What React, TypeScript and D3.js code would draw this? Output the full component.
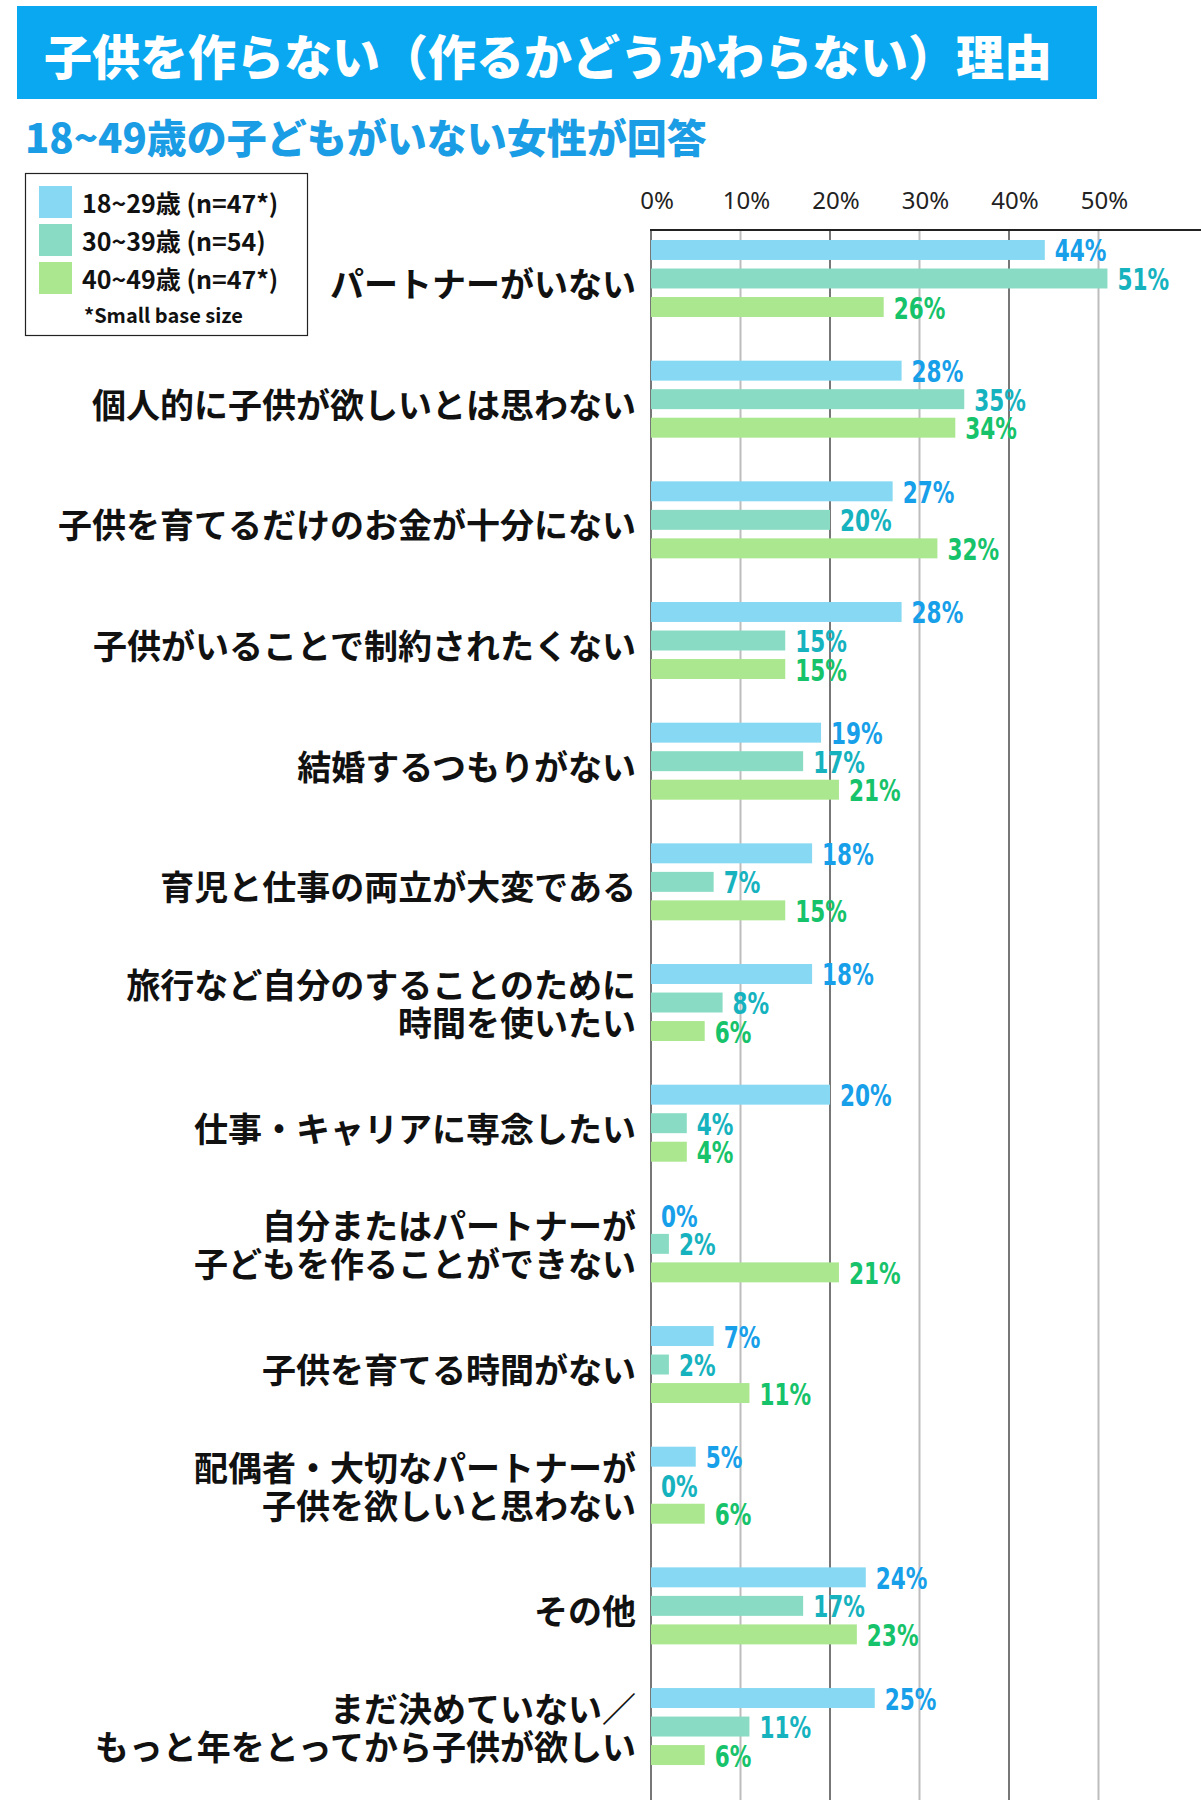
import React from "react";
import * as d3 from "d3";

const categories: string[][] = [
  ["パートナーがいない"],
  ["個人的に子供が欲しいとは思わない"],
  ["子供を育てるだけのお金が十分にない"],
  ["子供がいることで制約されたくない"],
  ["結婚するつもりがない"],
  ["育児と仕事の両立が大変である"],
  ["旅行など自分のすることのために", "時間を使いたい"],
  ["仕事・キャリアに専念したい"],
  ["自分またはパートナーが", "子どもを作ることができない"],
  ["子供を育てる時間がない"],
  ["配偶者・大切なパートナーが", "子供を欲しいと思わない"],
  ["その他"],
  ["まだ決めていない／", "もっと年をとってから子供が欲しい"],
];

const age18to29: number[] = [44, 28, 27, 28, 19, 18, 18, 20, 0, 7, 5, 24, 25];
const age30to39: number[] = [51, 35, 20, 15, 17, 7, 8, 4, 2, 2, 0, 17, 11];
const age40to49: number[] = [26, 34, 32, 15, 21, 15, 6, 4, 21, 11, 6, 23, 6];

const seriesNames: string[] = ["18~29歳 (n=47*)", "30~39歳 (n=54)", "40~49歳 (n=47*)"];
const seriesValues: number[][] = [age18to29, age30to39, age40to49];
const barColors = ["#87d9f3", "#89dcc3", "#aae78f"];
const labelColors = ["#179fe9", "#16b3bf", "#17c36a"];

const ticks: number[] = [0, 10, 20, 30, 40, 50];

const title = "子供を作らない（作るかどうかわらない）理由";
const subtitle = "18~49歳の子どもがいない女性が回答";
const footnote = "*Small base size";

const W = 1201;
const H = 1800;
const JP = "'Noto Sans CJK JP', 'Noto Sans', sans-serif";
const NUM = "'Liberation Sans Narrow', 'DejaVu Sans Condensed', 'Roboto', sans-serif";

export default function App() {
  const x = d3.scaleLinear().domain([0, 50]).range([651, 1098.5]);
  const keys = categories.map((_, i) => String(i));
  const y = d3
    .scaleBand<string>()
    .domain(keys)
    .range([240, 240 + 120.67 * categories.length])
    .paddingInner(0)
    .paddingOuter(0);
  const yi = d3
    .scaleBand<string>()
    .domain(["0", "1", "2"])
    .range([0, 77])
    .paddingInner(0.3)
    .paddingOuter(0);

  return (
    <svg
      width={W}
      height={H}
      style={{ position: "absolute", left: 0, top: 0, background: "#fff" }}
    >
      <rect x={0} y={0} width={W} height={H} fill="#fff" />
      {/* Title */}
      <rect x={17} y={6} width={1080} height={93} fill="#0aa8f0" />
      <text
        x={44}
        y={54}
        fill="#fff"
        fontFamily={JP}
        fontWeight={900}
        fontSize={48}
        dominantBaseline="central"
      >
        {title}
      </text>
      <text
        x={25}
        y={136}
        fill="#1a9de4"
        fontFamily={JP}
        fontWeight={900}
        fontSize={40}
        dominantBaseline="central"
      >
        {subtitle}
      </text>

      {/* Legend */}
      <rect x={25.5} y={173.5} width={282} height={162} fill="#fff" stroke="#222" strokeWidth={1.2} />
      {seriesNames.map((s, i) => (
        <g key={s}>
          <rect x={39} y={186 + i * 38} width={33} height={32} fill={barColors[i]} />
          <text
            x={82}
            y={202 + i * 38}
            fontFamily={JP}
            fontWeight={700}
            fontSize={25}
            fill="#111"
            dominantBaseline="central"
          >
            {s}
          </text>
        </g>
      ))}
      <text x={84} y={314} fontFamily={JP} fontWeight={700} fontSize={20} fill="#111" dominantBaseline="central">
        {footnote}
      </text>

      {/* Grid */}
      {ticks.map((t, i) => (
        <g key={t}>
          <line
            x1={x(t)}
            x2={x(t)}
            y1={230}
            y2={H}
            stroke={i % 2 === 0 ? "#777" : "#bdbdbd"}
            strokeWidth={2}
          />
          <text
            x={x(t) + 6}
            y={199}
            textAnchor="middle"
            fontFamily="'Noto Sans', sans-serif"
            fontWeight={400}
            fontSize={24}
            fill="#222"
            dominantBaseline="central"
          >
            {t}%
          </text>
        </g>
      ))}
      <line x1={x(0) - 1} x2={W} y1={230} y2={230} stroke="#222" strokeWidth={2} />

      {/* Bars */}
      {categories.map((lines, ci) => {
        const y0 = y(String(ci)) as number;
        const mid = y0 + (yi("1") as number) + yi.bandwidth() / 2;
        return (
          <g key={ci}>
            {seriesValues.map((vals, si) => {
              const by = y0 + (yi(String(si)) as number);
              const v = vals[ci];
              return (
                <g key={si}>
                  {v > 0 && (
                    <rect x={x(0)} y={by} width={x(v) - x(0)} height={yi.bandwidth()} fill={barColors[si]} />
                  )}
                  <text
                    transform={`translate(${x(v) + 10},${by + yi.bandwidth() / 2 + 1}) scale(0.8,1)`}
                    fontFamily={NUM}
                    fontWeight={700}
                    fontSize={30}
                    fill={labelColors[si]}
                    dominantBaseline="central"
                  >
                    {v}%
                  </text>
                </g>
              );
            })}
            {lines.length === 1 ? (
              <text
                x={636}
                y={mid + 4}
                textAnchor="end"
                fontFamily={JP}
                fontWeight={700}
                fontSize={34}
                fill="#111"
                dominantBaseline="central"
              >
                {lines[0]}
              </text>
            ) : (
              lines.map((l, li) => (
                <text
                  key={li}
                  x={636}
                  y={mid - 19 + li * 38}
                  textAnchor="end"
                  fontFamily={JP}
                  fontWeight={700}
                  fontSize={34}
                  fill="#111"
                  dominantBaseline="central"
                >
                  {l}
                </text>
              ))
            )}
          </g>
        );
      })}
    </svg>
  );
}
